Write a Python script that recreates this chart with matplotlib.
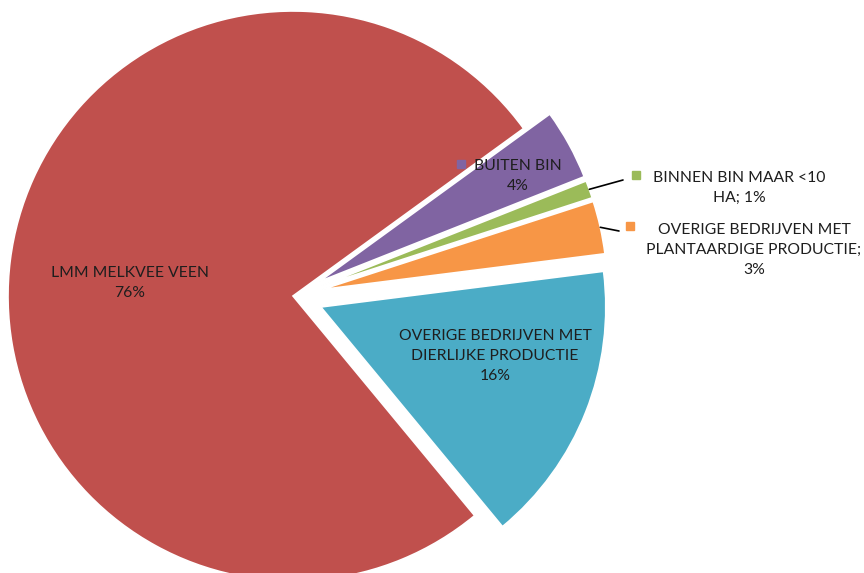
import matplotlib
matplotlib.use("Agg")
import matplotlib.pyplot as plt
import numpy as np

# ---- data ----
categories = ["BUITEN BIN", "BINNEN BIN MAAR <10 HA", "OVERIGE BEDRIJVEN MET PLANTAARDIGE PRODUCTIE",
              "OVERIGE BEDRIJVEN MET DIERLIJKE PRODUCTIE", "LMM MELKVEE VEEN"]
values = [4, 1, 3, 16, 76]
pct_labels = ["4%", "1%", "3%", "16%", "76%"]
colors = ["#8064A2", "#9BBB59", "#F79646", "#4BACC6", "#C0504D"]
explode = [0.105, 0.105, 0.105, 0.105, 0.0]

plt.rcParams['font.family'] = ['Lato', 'DejaVu Sans']
W, H = 864, 573
fig = plt.figure(figsize=(W / 100, H / 100), dpi=100)
ax = fig.add_axes([0, 0, 1, 1])

CX, CY, R = 293, 296, 285  # pixel centre and radius of the pie


def px(x, y):
    return ((x - CX) / R, (CY - y) / R)


wedges, _ = ax.pie(values, explode=explode, colors=colors, startangle=36, counterclock=False,
                   radius=1.0, wedgeprops=dict(edgecolor="white", linewidth=1.2))

ax.set_xlim(-CX / R, (W - CX) / R)
ax.set_ylim(-(H - CY) / R, CY / R)
ax.set_aspect('auto')
ax.axis('off')

tc = "#1E1E1E"
fs = 11.3
ls = 1.5

# LMM label
ax.text(*px(130, 283), f"{categories[4]}\n{pct_labels[4]}", ha="center", va="center", fontsize=fs,
        color=tc, linespacing=ls)
# blue label
ax.text(*px(495, 356), f"OVERIGE BEDRIJVEN MET\nDIERLIJKE PRODUCTIE\n{pct_labels[3]}", ha="center",
        va="center", fontsize=fs, color=tc, linespacing=ls)
# purple label with key
ax.text(*px(518, 176), f"{categories[0]}\n{pct_labels[0]}", ha="center", va="center", fontsize=fs,
        color=tc, linespacing=ls)
ax.plot(*px(461, 164), marker="s", ms=5.5, color=colors[0], linestyle="none")

# leader lines from wedge edges
def edge_point(i, r=1.0):
    w = wedges[i]
    th = np.deg2rad((w.theta1 + w.theta2) / 2)
    cx, cy = w.center
    return (cx + r * np.cos(th), cy + r * np.sin(th))

ax.annotate("", xy=edge_point(1), xytext=px(623, 180),
            arrowprops=dict(arrowstyle="-", color="black", lw=1.2, shrinkA=0, shrinkB=0))
ax.annotate("", xy=edge_point(2), xytext=px(619, 231),
            arrowprops=dict(arrowstyle="-", color="black", lw=1.2, shrinkA=0, shrinkB=0))

# green label with key
ax.text(*px(739, 188), f"BINNEN BIN MAAR <10\nHA; {pct_labels[1]}", ha="center", va="center",
        fontsize=fs, color=tc, linespacing=ls)
ax.plot(*px(636, 175), marker="s", ms=5.5, color=colors[1], linestyle="none")

# orange label with key
ax.text(*px(754, 250), f"OVERIGE BEDRIJVEN MET\nPLANTAARDIGE PRODUCTIE;\n{pct_labels[2]}", ha="center",
        va="center", fontsize=fs, color=tc, linespacing=ls)
ax.plot(*px(630, 226), marker="s", ms=5.5, color=colors[2], linestyle="none")

fig.savefig("out.png", dpi=100, facecolor="white")
